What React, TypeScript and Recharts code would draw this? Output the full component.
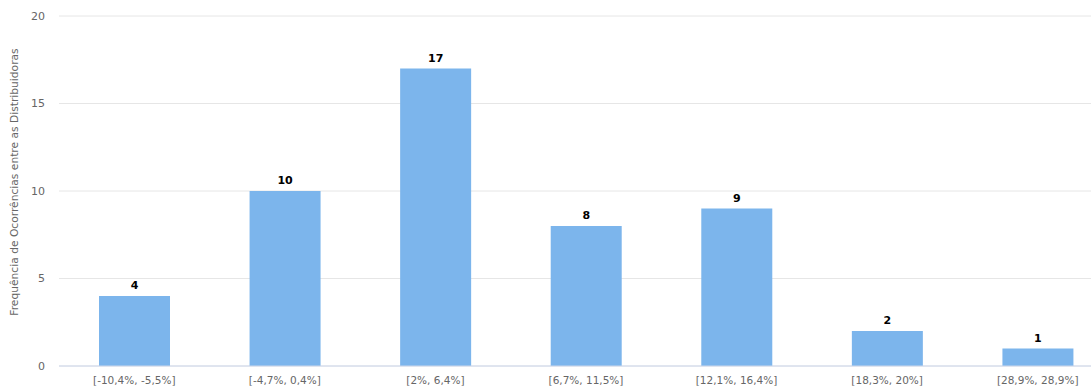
import { Bar, BarChart, CartesianGrid, LabelList, XAxis, YAxis } from "recharts";

const faixas = [
  "[-10,4%, -5,5%]",
  "[-4,7%, 0,4%]",
  "[2%, 6,4%]",
  "[6,7%, 11,5%]",
  "[12,1%, 16,4%]",
  "[18,3%, 20%]",
  "[28,9%, 28,9%]",
];
const frequencias = [4, 10, 17, 8, 9, 2, 1];
const yTicks = [0, 5, 10, 15, 20];

const data = faixas.map((faixa, i) => ({ faixa, freq: frequencias[i] }));

const FONT = '"DejaVu Sans", Verdana, sans-serif';

export default function App() {
  return (
    <div
      style={{
        position: "absolute",
        left: 0,
        top: 0,
        width: 1091,
        height: 391,
        overflow: "hidden",
        background: "#fff",
        fontFamily: FONT,
      }}
    >
      <BarChart
        width={1120}
        height={391}
        data={data}
        margin={{ top: 16, right: 7, bottom: 0, left: 0 }}
      >
        <CartesianGrid horizontal vertical={false} stroke="#e6e6e6" />
        <XAxis
          dataKey="faixa"
          height={25}
          tickLine={false}
          axisLine={{ stroke: "#ccd6eb" }}
          tick={{ fill: "#666", fontSize: 10.5, fontFamily: FONT }}
          tickMargin={5}
          interval={0}
        />
        <YAxis
          width={59}
          domain={[0, 20]}
          ticks={yTicks}
          tickLine={false}
          axisLine={false}
          tickSize={0}
          tickMargin={14}
          tick={{ fill: "#666", fontSize: 11, fontFamily: FONT }}
          label={{
            content: ({ viewBox }: any) => {
              // título do eixo, um pouco acima do centro como no original
              const cy = viewBox.y + viewBox.height / 2 - 9;
              return (
                <text
                  x={18}
                  y={cy}
                  transform={`rotate(-90, 18, ${cy})`}
                  textAnchor="middle"
                  fill="#666"
                  fontSize={10.7}
                  fontFamily={FONT}
                >
                  Frequência de Ocorrências entre as Distribuidoras
                </text>
              );
            },
          }}
        />
        <Bar dataKey="freq" fill="#7cb5ec" barSize={71} isAnimationActive={false}>
          <LabelList
            dataKey="freq"
            position="top"
            offset={7}
            fill="#000"
            fontSize={11}
            fontWeight="bold"
            fontFamily={FONT}
          />
        </Bar>
      </BarChart>
    </div>
  );
}
